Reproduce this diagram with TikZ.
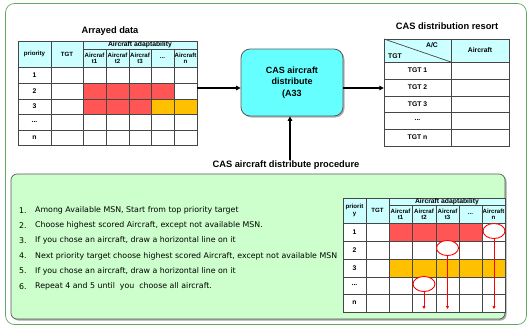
\documentclass[tikz,border=0pt]{standalone}
\usepackage{fontspec}
\setmainfont{Liberation Sans}
\newfontfamily\listfont{DejaVu Sans}
\usetikzlibrary{arrows.meta,fit,shadows,shapes.geometric}
\definecolor{framegreen}{RGB}{96,170,96}
\definecolor{panelgreen}{RGB}{204,255,204}
\definecolor{hdrcyan}{RGB}{204,255,255}
\definecolor{boxcyan}{RGB}{102,255,255}
\definecolor{cellred}{RGB}{255,85,85}
\definecolor{cellorange}{RGB}{255,192,0}
\definecolor{gridgray}{RGB}{70,70,70}
\definecolor{bordergray}{RGB}{90,90,90}
\tikzset{
  gridline/.style={draw=gridgray, line width=0.7pt},
  tiny/.style={font=\fontsize{6.1}{6.3}\selectfont\bfseries, inner sep=0pt, align=center},
  spanhdr/.style={font=\fontsize{6.8}{7}\selectfont\bfseries, inner sep=0pt},
  cellt/.style={font=\fontsize{6.8}{7}\selectfont\bfseries, inner sep=0pt},
  titletext/.style={font=\fontsize{9.3}{10}\selectfont\bfseries, inner sep=0pt},
  listt/.style={font=\fontsize{7.85}{9}\listfont, inner sep=0pt, anchor=west},
  flow/.style={line width=1.1pt, -{Triangle[length=4.5pt,width=4.5pt]}},
  redflow/.style={draw=red, line width=0.8pt, -{Triangle[length=3pt,width=3pt]}},
  ringmark/.style={draw=red, fill=white, line width=0.9pt, ellipse, minimum width=22pt, minimum height=15pt, inner sep=0pt},
}
\begin{document}
\begin{tikzpicture}[x=1pt,y=-1pt]
\useasboundingbox (0,0) rectangle (528,325);
% outer frame
\draw[framegreen, line width=0.7pt, rounded corners=9pt] (5.5,3.5) rectangle (526.5,324.5);
% inner panel
\fill[gray!70, rounded corners=6pt] (12.5,175.5) rectangle (506.5,320.5);
\draw[bordergray, fill=panelgreen, line width=0.7pt, rounded corners=6pt] (11,174) rectangle (505,319);

% ---------------- left table ----------------
\node[titletext] (ltitle) at (110,31) {Arrayed data};
\fill[hdrcyan] (18,41) rectangle (197,67);
\fill[cellred] (83,83) rectangle (174,99);
\fill[cellred] (83,99) rectangle (151,114);
\fill[cellorange] (151,99) rectangle (197,114);
\draw[gridline] (18,41) rectangle (197,145);
\foreach \x in {51,83} \draw[gridline] (\x,41) -- (\x,145);
\foreach \x in {106,129,151,174} \draw[gridline] (\x,49) -- (\x,145);
\draw[gridline] (83,49) -- (197,49);
\foreach \y in {67,83,99,114,130} \draw[gridline] (18,\y) -- (197,\y);
\node[fit={(18,41) (197,145)}, inner sep=0pt] (ltab) {};
\node[tiny] (lhp) at (34.5,54) {priority};
\node[tiny] (lht) at (67,54) {TGT};
\node[spanhdr] (lha) at (140,45.2) {Aircraft adaptability};
\node[tiny] (lh1) at (94.5,58) {Aircraf\\t1};
\node[tiny] (lh2) at (117.5,58) {Aircraf\\t2};
\node[tiny] (lh3) at (140,58) {Aircraf\\t3};
\node[tiny] (lh4) at (162.5,58) {...};
\node[tiny] (lh5) at (185.5,58) {Aircraft\\n};
\node[cellt] (lr1) at (34.5,75) {1};
\node[cellt] (lr2) at (34.5,91) {2};
\node[cellt] (lr3) at (34.5,106.5) {3};
\node[cellt] (lr4) at (34.5,121.5) {...};
\node[cellt] (lr5) at (34.5,137.5) {n};

% ---------------- center box ----------------
\node[draw=bordergray, fill=boxcyan, line width=0.8pt, rounded corners=9pt,
      minimum width=102pt, minimum height=67pt, align=center,
      font=\fontsize{9}{11.5}\selectfont\bfseries,
      drop shadow={shadow xshift=1.5pt, shadow yshift=-1.5pt, fill=gray, opacity=0.6}] (cas) at (292,82.5)
      {CAS aircraft\\distribute\\(A33};
\node[titletext] (proc) at (286,165) {CAS aircraft distribute procedure};

% ---------------- right table ----------------
\node[titletext] (rtitle) at (447,26) {CAS distribution resort};
\fill[hdrcyan] (384,39) rectangle (509,62);
\draw[gridline] (384,39) rectangle (509,146);
\draw[gridline] (451,39) -- (451,146);
\draw[gridline] (384,39) -- (451,62);
\foreach \y in {62,79,96,112,129} \draw[gridline] (384,\y) -- (509,\y);
\node[fit={(384,39) (509,146)}, inner sep=0pt] (rtab) {};
\node[cellt] (rac) at (432,45.5) {A/C};
\node[cellt] (rtg) at (395,56.5) {TGT};
\node[cellt] (rai) at (480,50.5) {Aircraft};
\node[cellt] (rr1) at (417.5,70.5) {TGT 1};
\node[cellt] (rr2) at (417.5,87.5) {TGT 2};
\node[cellt] (rr3) at (417.5,104) {TGT 3};
\node[cellt] (rr4) at (417.5,119.5) {...};
\node[cellt] (rr5) at (417.5,137.5) {TGT n};

% ---------------- connectors ----------------
\draw[flow] (ltab.east |- 0,88) -- (cas.west |- 0,88);
\draw[flow] (cas.east |- 0,88) -- (rtab.west |- 0,88);
\draw[flow] (proc.north -| 290,0) -- (cas.south -| 290,0);

% ---------------- list ----------------
\node[listt] (n1) at (19,210.5) {1.};
\node[listt] (n2) at (19,225.5) {2.};
\node[listt] (n3) at (19,240.5) {3.};
\node[listt] (n4) at (19,256) {4.};
\node[listt] (n5) at (19,271) {5.};
\node[listt] (n6) at (19,286.5) {6.};
\node[listt] (t1) at (35,210.5) {Among Available MSN, Start from top priority target};
\node[listt] (t2) at (35,225.5) {Choose highest scored Aircraft, except not available MSN.};
\node[listt] (t3) at (35,240.5) {If you chose an aircraft, draw a horizontal line on it};
\node[listt] (t4) at (35,256) {Next priority target choose highest scored Aircraft, except not available MSN};
\node[listt] (t5) at (35,271) {If you chose an aircraft, draw a horizontal line on it};
\node[listt] (t6) at (35,286.5) {Repeat 4 and 5 until\ \ you\ \ choose all aircraft.};

% ---------------- bottom table ----------------
\fill[white] (343,198) rectangle (505,312);
\fill[hdrcyan] (343,198) rectangle (505,223);
\fill[cellred] (389,223) rectangle (482,241);
\fill[cellorange] (389,259) rectangle (505,277);
\draw[gridline] (343,198) rectangle (505,312);
\foreach \x in {366,389} \draw[gridline] (\x,198) -- (\x,312);
\foreach \x in {412,436,459,482} \draw[gridline] (\x,205) -- (\x,312);
\draw[gridline] (389,205) -- (505,205);
\foreach \y in {223,241,259,277,294} \draw[gridline] (343,\y) -- (505,\y);
\node[tiny] (bhp) at (354.5,210.5) {priorit\\y};
\node[tiny] (bht) at (377.5,210.5) {TGT};
\node[spanhdr] (bha) at (447,201.3) {Aircraft adaptability};
\node[tiny] (bh1) at (400.5,214) {Aircraf\\t1};
\node[tiny] (bh2) at (424,214) {Aircraf\\t2};
\node[tiny] (bh3) at (447.5,214) {Aircraf\\t3};
\node[tiny] (bh4) at (470.5,214) {...};
\node[tiny] (bh5) at (493.5,214) {Aircraft\\n};
\node[cellt] (br1) at (354.5,232) {1};
\node[cellt] (br2) at (354.5,250) {2};
\node[cellt] (br3) at (354.5,268) {3};
\node[cellt] (br4) at (354.5,284.5) {...};
\node[cellt] (br5) at (354.5,303) {n};
% marks
\node[ringmark] (e1) at (494,231) {};
\node[ringmark] (e2) at (447.5,248) {};
\node[ringmark] (e3) at (424,284) {};
\coordinate (d1) at (494,309);
\coordinate (d2) at (447.5,309);
\coordinate (d3) at (424,309);
\draw[redflow] (e1.south) -- (d1);
\draw[redflow] (e2.south) -- (d2);
\draw[redflow] (e3.south) -- (d3);
\end{tikzpicture}
\end{document}
